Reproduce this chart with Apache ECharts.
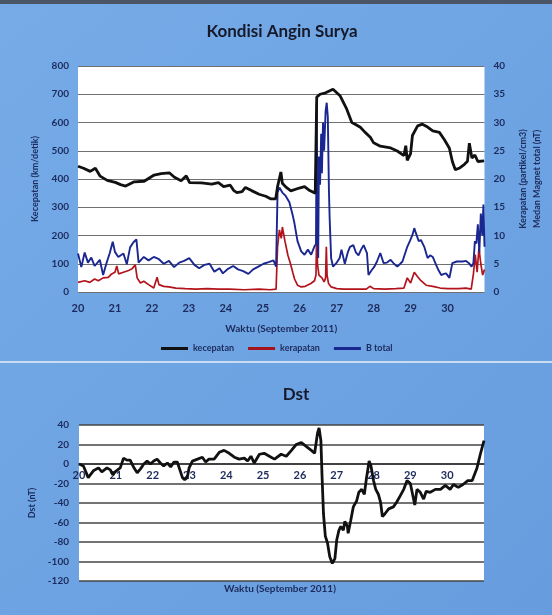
<!DOCTYPE html>
<html><head><meta charset="utf-8">
<script src="https://cdn.jsdelivr.net/npm/echarts@6/dist/echarts.min.js"></script>
<style>html,body{margin:0;padding:0;background:#6fa6e4}#c{width:552px;height:615px}</style>
</head><body><div id="c"></div>
<script>
// ---- data (day of September 2011, values) ----
const dayTickLabels = ['20','21','22','23','24','25','26','27','28','29','30'];

const speedDays = [20.0,20.15,20.33,20.47,20.6,20.79,21.01,21.15,21.29,21.52,21.79,22.06,22.25,22.47,22.61,22.79,22.93,23.02,23.34,23.62,23.8,23.94,24.12,24.21,24.3,24.44,24.53,24.71,24.9,25.08,25.21,25.35,25.4,25.49,25.53,25.62,25.76,25.99,26.13,26.27,26.42,26.46,26.55,26.7,26.9,27.09,27.27,27.41,27.5,27.64,27.77,27.91,28.0,28.18,28.46,28.64,28.82,28.87,28.91,29.0,29.05,29.19,29.32,29.46,29.6,29.78,29.92,30.05,30.13,30.21,30.33,30.45,30.54,30.59,30.66,30.74,30.82,30.99];
const speedVals = [445,438,427,438,410,395,388,380,375,390,392,414,419,422,406,394,411,387,386,382,387,373,378,360,352,355,370,358,346,339,330,330,373,425,385,372,358,368,373,359,350,690,700,705,718,695,648,600,594,583,565,548,528,516,510,499,483,518,466,490,554,588,594,584,570,565,538,509,462,433,439,451,463,527,474,485,462,464];

const densDays = [20.0,20.18,20.32,20.45,20.55,20.68,20.82,20.91,21.0,21.05,21.1,21.23,21.37,21.46,21.55,21.6,21.69,21.78,21.91,22.05,22.1,22.14,22.19,22.32,22.46,22.65,22.9,23.2,23.5,23.8,24.1,24.5,24.9,25.2,25.36,25.4,25.45,25.5,25.53,25.6,25.68,25.75,25.81,25.86,25.94,26.04,26.15,26.3,26.4,26.44,26.46,26.48,26.52,26.6,26.66,26.7,26.72,26.74,26.78,26.85,27.0,27.2,27.5,27.8,27.9,28.0,28.3,28.6,28.82,28.91,29.0,29.1,29.18,29.28,29.42,29.6,29.8,30.0,30.3,30.5,30.64,30.7,30.75,30.8,30.85,30.9,30.95,31.0];
const densVals = [1.7,2.0,1.7,2.3,2.0,2.5,2.6,3.2,3.5,4.6,3.2,3.5,3.8,4.1,4.8,2.5,1.6,1.9,1.3,0.7,1.0,2.6,1.3,1.0,0.9,0.7,0.6,0.5,0.6,0.5,0.5,0.4,0.5,0.4,0.5,8,11,9.5,11.5,9,6.5,5.0,3.5,2.3,1.2,0.9,1.0,1.5,2.0,3,11.5,5,3,2.5,1.8,2.5,8,3,1.5,0.9,0.6,0.5,0.5,0.5,1.0,0.6,0.5,0.6,0.7,2.5,1.6,3.5,2.8,2.0,1.2,1.0,0.7,0.6,0.6,0.7,0.5,3.2,6.6,3.5,7.8,5.0,3.0,4];

const btotDays = [20.0,20.09,20.18,20.27,20.36,20.45,20.59,20.68,20.77,20.86,20.94,21.0,21.09,21.23,21.32,21.41,21.5,21.58,21.64,21.78,21.91,22.05,22.19,22.32,22.46,22.6,22.74,22.87,23.01,23.15,23.28,23.42,23.56,23.69,23.83,23.92,24.06,24.2,24.33,24.47,24.61,24.74,24.88,25.02,25.16,25.29,25.36,25.4,25.45,25.53,25.62,25.72,25.81,25.85,25.94,26.04,26.13,26.22,26.31,26.4,26.44,26.46,26.48,26.5,26.52,26.55,26.58,26.6,26.63,26.66,26.7,26.73,26.76,26.79,26.81,26.85,26.9,26.99,27.08,27.13,27.22,27.3,27.36,27.45,27.52,27.59,27.66,27.73,27.78,27.82,27.86,27.95,28.02,28.09,28.18,28.27,28.36,28.46,28.55,28.64,28.72,28.78,28.91,28.98,29.05,29.1,29.14,29.22,29.28,29.37,29.46,29.53,29.6,29.69,29.76,29.83,29.9,29.96,30.05,30.13,30.25,30.41,30.5,30.58,30.65,30.7,30.74,30.78,30.82,30.86,30.9,30.94,30.97,31.0];
const btotVals = [6.8,4.4,7.0,5.2,6.1,4.6,5.7,3.0,5.1,6.9,8.9,7.1,6.2,6.8,4.9,7.9,8.8,9.3,5.2,6.2,5.6,6.2,5.8,5.0,5.5,4.4,5.2,5.5,6.0,4.8,4.2,4.8,5.0,3.6,4.2,3.3,4.1,4.6,4.0,3.7,3.2,4.0,4.5,5.0,5.3,5.6,4.5,17.6,18.5,17.6,17.0,15.9,13.6,12.4,9.0,7.2,6.6,7.5,6.6,8.1,8.5,33.5,12,6,24,19,28,21,30,25,32,33.5,31,18,13,6,4.5,5.1,6.0,7.5,5.0,7.0,8.0,8.3,7.0,6.5,7.5,8.3,7.5,6.9,3.0,3.9,4.5,5.4,6.9,5.1,5.2,5.7,5.0,4.5,5.0,5.4,8.0,9.0,10.1,11.3,10.5,9.0,9.2,8.0,6.0,6.5,6.2,4.8,3.8,3.0,3.2,3.3,2.5,5.1,5.4,5.4,5.5,5.1,4.5,5.1,9.0,8.6,12,7,13.9,10,15.5,8];

const dstDays = [20.0,20.12,20.25,20.39,20.53,20.62,20.76,20.85,20.92,20.98,21.12,21.21,21.3,21.39,21.48,21.58,21.67,21.76,21.85,21.94,22.03,22.12,22.21,22.3,22.4,22.49,22.58,22.67,22.74,22.81,22.87,22.94,22.99,23.08,23.22,23.35,23.44,23.53,23.67,23.81,23.94,24.08,24.22,24.35,24.49,24.58,24.67,24.76,24.9,25.03,25.17,25.31,25.49,25.63,25.77,25.9,26.04,26.17,26.31,26.4,26.48,26.52,26.57,26.6,26.64,26.69,26.75,26.81,26.88,26.95,27.0,27.06,27.11,27.18,27.22,27.29,27.31,27.38,27.45,27.54,27.6,27.68,27.75,27.81,27.88,27.93,28.0,28.06,28.13,28.19,28.24,28.31,28.41,28.54,28.63,28.72,28.82,28.91,29.0,29.06,29.12,29.18,29.27,29.36,29.43,29.54,29.68,29.82,29.95,30.08,30.17,30.3,30.43,30.56,30.68,30.73,30.81,30.9,31.0];
const dstVals = [0,-2,-14,-7,-4,-8,-4,-6,-11,-8,-4,6,4,4,-3,-9,-5,0,3,0,3,5,1,-2,1,-3,2,2,-6,-14,-16,-14,-4,3,5,7,2,5,5,12,14,11,7,5,6,3,8,1,10,11,8,5,10,8,14,20,22,18,14,11,32,37,24,-11,-51,-74,-81,-95,-102,-97,-78,-68,-64,-68,-59,-64,-71,-58,-44,-38,-29,-26,-31,-14,3,-2,-17,-26,-31,-39,-54,-51,-46,-44,-39,-33,-26,-17,-20,-31,-42,-26,-29,-36,-28,-29,-26,-26,-22,-26,-21,-24,-21,-17,-17,-19,-4,10,24];

const seriesNames = ['kecepatan','kerapatan','B total'];
const pairs = (a, b) => a.map((d, i) => [d, b[i]]);

const navy = '#1c2a5c';
const lbl = {color: navy, fontWeight: 'bold', fontSize: 10, fontFamily: 'Lato'};
const dayFmt = v => (Number.isInteger(v) && dayTickLabels[v - 20] !== undefined) ? dayTickLabels[v - 20] : '';

const chart = echarts.init(document.getElementById('c'), null, {renderer: 'canvas'});
chart.setOption({
  animation: false,
  backgroundColor: {type: 'linear', x: 0, y: 0, x2: 1, y2: 1, colorStops: [{offset: 0, color: '#76abe8'}, {offset: 1, color: '#679dde'}]},
  graphic: [
    {type: 'rect', shape: {x: 0, y: 0, width: 552, height: 4}, style: {fill: '#4a5566'}},
    {type: 'rect', shape: {x: 0, y: 361, width: 552, height: 2}, style: {fill: '#c9dcf2'}},
    {type: 'text', style: {text: 'Kondisi Angin Surya', x: 282, y: 32, textAlign: 'center', textVerticalAlign: 'middle', font: 'bold 17px Lato', fill: '#15192a'}},
    {type: 'text', style: {text: 'Dst', x: 296, y: 395, textAlign: 'center', textVerticalAlign: 'middle', font: 'bold 17px Lato', fill: '#15192a'}},
    {type: 'text', style: {text: 'Waktu (September 2011)', x: 280, y: 589, textAlign: 'center', textVerticalAlign: 'middle', font: 'bold 10px Lato', fill: navy}}
  ],
  legend: {
    data: seriesNames, left: 156, top: 339, itemWidth: 27, itemHeight: 3, icon: 'rect', itemGap: 14,
    textStyle: {color: navy, fontSize: 9, fontFamily: 'Lato', fontWeight: 'bold'}
  },
  grid: [
    {left: 78, top: 66, width: 408, height: 226, show: true, backgroundColor: '#ffffff', borderWidth: 0},
    {left: 79, top: 425, width: 405, height: 156, show: true, backgroundColor: '#ffffff', borderWidth: 0}
  ],
  xAxis: [
    {gridIndex: 0, type: 'value', min: 20, max: 31, interval: 1,
     axisLine: {show: false}, axisTick: {show: false}, splitLine: {show: false},
     axisLabel: Object.assign({}, lbl, {fontSize: 11, margin: 11, formatter: dayFmt}),
     name: 'Waktu (September 2011)', nameLocation: 'middle', nameGap: 32,
     nameTextStyle: {color: navy, fontWeight: 'bold', fontSize: 10, fontFamily: 'Lato'}},
    {gridIndex: 1, type: 'value', min: 20, max: 31, interval: 1, position: 'bottom', offset: -117,
     axisLine: {show: true, onZero: false, lineStyle: {color: '#333', width: 1.5}}, axisTick: {show: false}, splitLine: {show: false},
     axisLabel: Object.assign({}, lbl, {fontSize: 11, margin: 6, formatter: dayFmt})}
  ],
  yAxis: [
    {gridIndex: 0, type: 'value', min: 0, max: 800, interval: 100,
     axisLine: {show: false}, axisTick: {show: false},
     splitLine: {lineStyle: {color: '#707070', width: 1.2}},
     axisLabel: Object.assign({}, lbl, {margin: 9}),
     name: 'Kecepatan (km/detik)', nameLocation: 'middle', nameGap: 38, nameRotate: 90,
     nameTextStyle: {color: navy, fontWeight: 'bold', fontSize: 9, fontFamily: 'Lato'}},
    {gridIndex: 0, type: 'value', min: 0, max: 40, interval: 5, position: 'right',
     axisLine: {show: false}, axisTick: {show: false}, splitLine: {show: false},
     axisLabel: Object.assign({}, lbl, {margin: 9}),
     name: 'Kerapatan (partikel/cm3)\nMedan Magnet total (nT)', nameLocation: 'middle', nameGap: 29, nameRotate: 90,
     nameTextStyle: {color: navy, fontWeight: 'bold', fontSize: 9, fontFamily: 'Lato', lineHeight: 14}},
    {gridIndex: 1, type: 'value', min: -120, max: 40, interval: 20,
     axisLine: {show: false}, axisTick: {show: false},
     splitLine: {lineStyle: {color: '#444', width: 1.5}},
     axisLabel: Object.assign({}, lbl, {margin: 10}),
     name: 'Dst (nT)', nameLocation: 'middle', nameGap: 42, nameRotate: 90,
     nameTextStyle: {color: navy, fontWeight: 'bold', fontSize: 9, fontFamily: 'Lato'}}
  ],
  series: [
    {name: seriesNames[0], type: 'line', xAxisIndex: 0, yAxisIndex: 0, data: pairs(speedDays, speedVals), showSymbol: false,
     color: '#111111', lineStyle: {color: '#111111', width: 2.8}, z: 5},
    {name: seriesNames[1], type: 'line', xAxisIndex: 0, yAxisIndex: 1, data: pairs(densDays, densVals), showSymbol: false,
     color: '#a3141c', lineStyle: {color: '#b3141c', width: 1.7}, z: 3},
    {name: seriesNames[2], type: 'line', xAxisIndex: 0, yAxisIndex: 1, data: pairs(btotDays, btotVals), showSymbol: false,
     color: '#1a2790', lineStyle: {color: '#1a2790', width: 1.9}, z: 4},
    {name: 'Dst', type: 'line', xAxisIndex: 1, yAxisIndex: 2, data: pairs(dstDays, dstVals), showSymbol: false,
     color: '#111111', lineStyle: {color: '#111111', width: 2.8}}
  ]
});
</script></body></html>
